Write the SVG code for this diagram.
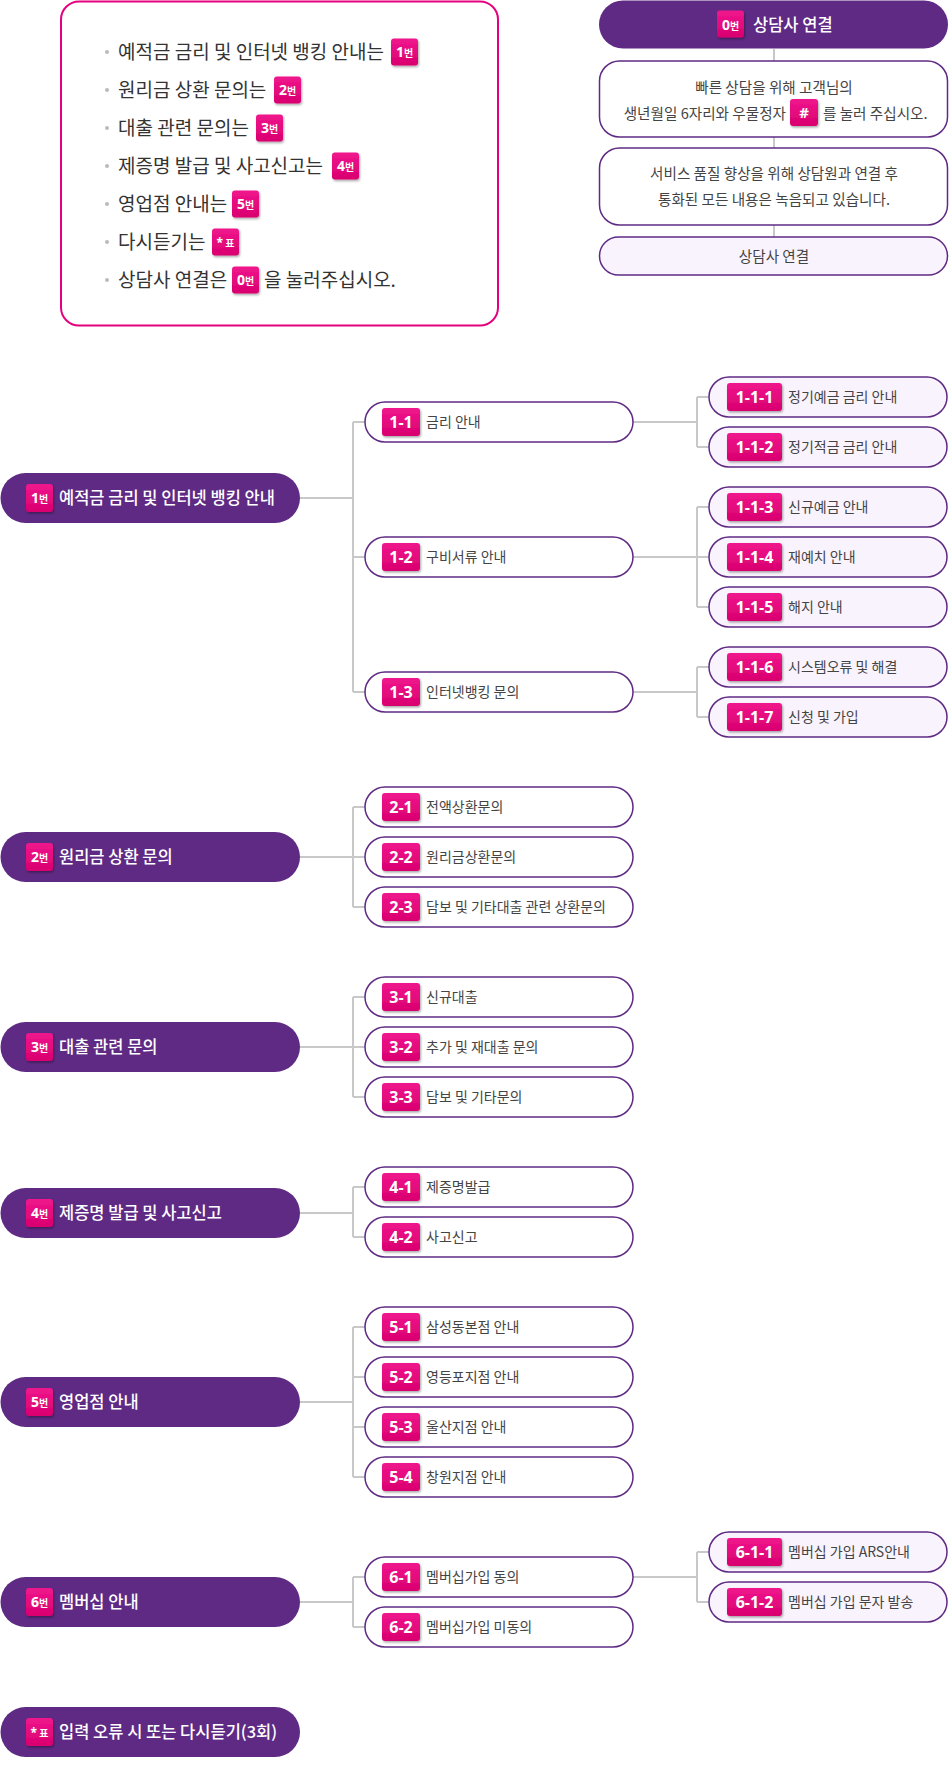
<svg xmlns="http://www.w3.org/2000/svg" width="949" height="1768" viewBox="0 0 949 1768">
<defs>
<linearGradient id="pk" x1="0" y1="0" x2="0" y2="1"><stop offset="0" stop-color="#f0168d"/><stop offset="1" stop-color="#d9006f"/></linearGradient>
<filter id="sh" x="-20%" y="-20%" width="150%" height="160%"><feDropShadow dx="1" dy="1.5" stdDeviation="0.8" flood-color="#000" flood-opacity="0.35"/></filter>
<style>
.bd{fill:url(#pk);filter:url(#sh)}
.bt{font-family:"Noto Sans","Noto Sans CJK KR",sans-serif;font-weight:700;fill:#fff;text-anchor:middle}
.l1{fill:#5f2a84}
.l1t{font-family:"Noto Sans CJK KR",sans-serif;font-size:16.5px;font-weight:500;fill:#fff}
.l2{fill:#fff;stroke:#5f2a84;stroke-width:1.5}
.l3{fill:#f9f3fd;stroke:#5f2a84;stroke-width:1.5}
.lt{font-family:"Noto Sans CJK KR",sans-serif;font-size:14px;fill:#444}
.rt{font-family:"Noto Sans CJK KR",sans-serif;font-size:14.6px;fill:#444}
.it{font-family:"Noto Sans CJK KR",sans-serif;font-size:19px;fill:#333}
.ct{font-family:"Noto Sans CJK KR",sans-serif;font-size:14.6px;fill:#444;text-anchor:middle}
.cn{fill:none;stroke:#c8c8c8;stroke-width:2}
.b2{font-size:16px}
.b3{font-size:16px}
.bs{font-size:10px;font-family:"Noto Sans CJK KR",sans-serif}
</style>
</defs>

<g id="connectors" class="cn">
<path d="M774 49V61M774 137V148M774 225V237"/>
<path d="M300 498H353M353 422V692M353 422H365M353 557H365M353 692H365"/>
<path d="M633 422H697M697 397V447M697 397H709M697 447H709"/>
<path d="M633 557H709M697 507V607M697 507H709M697 607H709"/>
<path d="M633 692H697M697 667V717M697 667H709M697 717H709"/>
<path d="M300 857H353M353 807V907M353 807H365M353 857H365M353 907H365"/>
<path d="M300 1047H353M353 997V1097M353 997H365M353 1047H365M353 1097H365"/>
<path d="M300 1213H353M353 1187V1237M353 1187H365M353 1237H365"/>
<path d="M300 1402H353M353 1327V1477M353 1327H365M353 1377H365M353 1427H365M353 1477H365"/>
<path d="M300 1602H353M353 1577V1627M353 1577H365M353 1627H365"/>
<path d="M633 1577H697M697 1552V1602M697 1552H709M697 1602H709"/>
</g>

<g id="menu-guide">
<rect x="61" y="1.5" width="437" height="324" rx="18" fill="#fff" stroke="#e5007e" stroke-width="2"/>
<g fill="#bbb"><circle cx="107" cy="52" r="2"/><circle cx="107" cy="90" r="2"/><circle cx="107" cy="128" r="2"/><circle cx="107" cy="166" r="2"/><circle cx="107" cy="204" r="2"/><circle cx="107" cy="242" r="2"/><circle cx="107" cy="280" r="2"/></g>
<text class="it" x="118" y="59">예적금 금리 및 인터넷 뱅킹 안내는</text>
<rect class="bd" x="391" y="38.5" width="27" height="27" rx="3"/><text class="bt" x="404.5" y="57"><tspan font-size="14">1</tspan><tspan class="bs">번</tspan></text>
<text class="it" x="118" y="97">원리금 상환 문의는</text>
<rect class="bd" x="274" y="76.5" width="27" height="27" rx="3"/><text class="bt" x="287.5" y="95"><tspan font-size="14">2</tspan><tspan class="bs">번</tspan></text>
<text class="it" x="118" y="135">대출 관련 문의는</text>
<rect class="bd" x="256" y="114.5" width="27" height="27" rx="3"/><text class="bt" x="269.5" y="133"><tspan font-size="14">3</tspan><tspan class="bs">번</tspan></text>
<text class="it" x="118" y="173">제증명 발급 및 사고신고는</text>
<rect class="bd" x="332" y="152.5" width="27" height="27" rx="3"/><text class="bt" x="345.5" y="171"><tspan font-size="14">4</tspan><tspan class="bs">번</tspan></text>
<text class="it" x="118" y="211">영업점 안내는</text>
<rect class="bd" x="232" y="190.5" width="27" height="27" rx="3"/><text class="bt" x="245.5" y="209"><tspan font-size="14">5</tspan><tspan class="bs">번</tspan></text>
<text class="it" x="118" y="249">다시듣기는</text>
<rect class="bd" x="212" y="228.5" width="27" height="27" rx="3"/><text class="bt" x="225.5" y="247"><tspan font-size="12">*</tspan><tspan class="bs"> 표</tspan></text>
<text class="it" x="118" y="287">상담사 연결은</text>
<rect class="bd" x="232" y="266.5" width="27" height="27" rx="3"/><text class="bt" x="245.5" y="285"><tspan font-size="14">0</tspan><tspan class="bs">번</tspan></text>
<text class="it" x="264" y="287">을 눌러주십시오.</text>
</g>

<g id="n0">
<rect class="l1" x="599" y="0.5" width="349" height="48" rx="24"/>
<rect class="bd" x="717" y="10.5" width="27" height="27" rx="3"/><text class="bt" x="730.5" y="29.5"><tspan font-size="14">0</tspan><tspan class="bs">번</tspan></text>
<text class="l1t" x="753" y="31">상담사 연결</text>
</g>
<g id="n0-a">
<rect class="l2" x="599.5" y="61" width="348" height="76" rx="20"/>
<text class="ct" x="774" y="92.5">빠른 상담을 위해 고객님의</text>
<text class="rt" x="786" y="118.5" text-anchor="end">생년월일 6자리와 우물정자</text>
<rect class="bd" x="790" y="99" width="28" height="27" rx="3"/><text class="bt" x="804" y="118" font-size="15">#</text>
<text class="rt" x="823" y="118.5">를 눌러 주십시오.</text>
</g>
<g id="n0-b">
<rect class="l2" x="599.5" y="148" width="348" height="77" rx="20"/>
<text class="ct" x="774" y="178.5">서비스 품질 향상을 위해 상담원과 연결 후</text>
<text class="ct" x="774" y="204.5">통화된 모든 내용은 녹음되고 있습니다.</text>
</g>
<g id="n0-c">
<rect class="l3" x="599.5" y="237" width="348" height="38" rx="19"/>
<text class="ct" x="774" y="261.5">상담사 연결</text>
</g>

<g id="n1">
<rect class="l1" x="0.5" y="473" width="299.5" height="50" rx="25"/>
<rect class="bd" x="26" y="484" width="27" height="28" rx="3"/><text class="bt" x="39.5" y="503"><tspan font-size="14">1</tspan><tspan class="bs">번</tspan></text>
<text class="l1t" x="59" y="504">예적금 금리 및 인터넷 뱅킹 안내</text>
</g>
<g id="n1-1"><rect class="l2" x="365" y="402" width="268" height="40" rx="20"/><rect class="bd" x="382" y="408" width="38" height="28" rx="3"/><text class="bt b2" x="401" y="427.8">1-1</text><text class="lt" x="426" y="427">금리 안내</text></g>
<g id="n1-2"><rect class="l2" x="365" y="537" width="268" height="40" rx="20"/><rect class="bd" x="382" y="543" width="38" height="28" rx="3"/><text class="bt b2" x="401" y="562.8">1-2</text><text class="lt" x="426" y="562">구비서류 안내</text></g>
<g id="n1-3"><rect class="l2" x="365" y="672" width="268" height="40" rx="20"/><rect class="bd" x="382" y="678" width="38" height="28" rx="3"/><text class="bt b2" x="401" y="697.8">1-3</text><text class="lt" x="426" y="697">인터넷뱅킹 문의</text></g>

<g id="n1-1-1"><rect class="l3" x="709" y="377" width="238" height="40" rx="20"/><rect class="bd" x="727" y="383" width="55" height="28" rx="3"/><text class="bt b3" x="754.5" y="402.8">1-1-1</text><text class="lt" x="788" y="402">정기예금 금리 안내</text></g>
<g id="n1-1-2"><rect class="l3" x="709" y="427" width="238" height="40" rx="20"/><rect class="bd" x="727" y="433" width="55" height="28" rx="3"/><text class="bt b3" x="754.5" y="452.8">1-1-2</text><text class="lt" x="788" y="452">정기적금 금리 안내</text></g>
<g id="n1-1-3"><rect class="l3" x="709" y="487" width="238" height="40" rx="20"/><rect class="bd" x="727" y="493" width="55" height="28" rx="3"/><text class="bt b3" x="754.5" y="512.8">1-1-3</text><text class="lt" x="788" y="512">신규예금 안내</text></g>
<g id="n1-1-4"><rect class="l3" x="709" y="537" width="238" height="40" rx="20"/><rect class="bd" x="727" y="543" width="55" height="28" rx="3"/><text class="bt b3" x="754.5" y="562.8">1-1-4</text><text class="lt" x="788" y="562">재예치 안내</text></g>
<g id="n1-1-5"><rect class="l3" x="709" y="587" width="238" height="40" rx="20"/><rect class="bd" x="727" y="593" width="55" height="28" rx="3"/><text class="bt b3" x="754.5" y="612.8">1-1-5</text><text class="lt" x="788" y="612">해지 안내</text></g>
<g id="n1-1-6"><rect class="l3" x="709" y="647" width="238" height="40" rx="20"/><rect class="bd" x="727" y="653" width="55" height="28" rx="3"/><text class="bt b3" x="754.5" y="672.8">1-1-6</text><text class="lt" x="788" y="672">시스템오류 및 해결</text></g>
<g id="n1-1-7"><rect class="l3" x="709" y="697" width="238" height="40" rx="20"/><rect class="bd" x="727" y="703" width="55" height="28" rx="3"/><text class="bt b3" x="754.5" y="722.8">1-1-7</text><text class="lt" x="788" y="722">신청 및 가입</text></g>

<g id="n2">
<rect class="l1" x="0.5" y="832" width="299.5" height="50" rx="25"/>
<rect class="bd" x="26" y="843" width="27" height="28" rx="3"/><text class="bt" x="39.5" y="862"><tspan font-size="14">2</tspan><tspan class="bs">번</tspan></text>
<text class="l1t" x="59" y="863">원리금 상환 문의</text>
</g>
<g id="n2-1"><rect class="l2" x="365" y="787" width="268" height="40" rx="20"/><rect class="bd" x="382" y="793" width="38" height="28" rx="3"/><text class="bt b2" x="401" y="812.8">2-1</text><text class="lt" x="426" y="812">전액상환문의</text></g>
<g id="n2-2"><rect class="l2" x="365" y="837" width="268" height="40" rx="20"/><rect class="bd" x="382" y="843" width="38" height="28" rx="3"/><text class="bt b2" x="401" y="862.8">2-2</text><text class="lt" x="426" y="862">원리금상환문의</text></g>
<g id="n2-3"><rect class="l2" x="365" y="887" width="268" height="40" rx="20"/><rect class="bd" x="382" y="893" width="38" height="28" rx="3"/><text class="bt b2" x="401" y="912.8">2-3</text><text class="lt" x="426" y="912">담보 및 기타대출 관련 상환문의</text></g>

<g id="n3">
<rect class="l1" x="0.5" y="1022" width="299.5" height="50" rx="25"/>
<rect class="bd" x="26" y="1033" width="27" height="28" rx="3"/><text class="bt" x="39.5" y="1052"><tspan font-size="14">3</tspan><tspan class="bs">번</tspan></text>
<text class="l1t" x="59" y="1053">대출 관련 문의</text>
</g>
<g id="n3-1"><rect class="l2" x="365" y="977" width="268" height="40" rx="20"/><rect class="bd" x="382" y="983" width="38" height="28" rx="3"/><text class="bt b2" x="401" y="1002.8">3-1</text><text class="lt" x="426" y="1002">신규대출</text></g>
<g id="n3-2"><rect class="l2" x="365" y="1027" width="268" height="40" rx="20"/><rect class="bd" x="382" y="1033" width="38" height="28" rx="3"/><text class="bt b2" x="401" y="1052.8">3-2</text><text class="lt" x="426" y="1052">추가 및 재대출 문의</text></g>
<g id="n3-3"><rect class="l2" x="365" y="1077" width="268" height="40" rx="20"/><rect class="bd" x="382" y="1083" width="38" height="28" rx="3"/><text class="bt b2" x="401" y="1102.8">3-3</text><text class="lt" x="426" y="1102">담보 및 기타문의</text></g>

<g id="n4">
<rect class="l1" x="0.5" y="1188" width="299.5" height="50" rx="25"/>
<rect class="bd" x="26" y="1199" width="27" height="28" rx="3"/><text class="bt" x="39.5" y="1218"><tspan font-size="14">4</tspan><tspan class="bs">번</tspan></text>
<text class="l1t" x="59" y="1219">제증명 발급 및 사고신고</text>
</g>
<g id="n4-1"><rect class="l2" x="365" y="1167" width="268" height="40" rx="20"/><rect class="bd" x="382" y="1173" width="38" height="28" rx="3"/><text class="bt b2" x="401" y="1192.8">4-1</text><text class="lt" x="426" y="1192">제증명발급</text></g>
<g id="n4-2"><rect class="l2" x="365" y="1217" width="268" height="40" rx="20"/><rect class="bd" x="382" y="1223" width="38" height="28" rx="3"/><text class="bt b2" x="401" y="1242.8">4-2</text><text class="lt" x="426" y="1242">사고신고</text></g>

<g id="n5">
<rect class="l1" x="0.5" y="1377" width="299.5" height="50" rx="25"/>
<rect class="bd" x="26" y="1388" width="27" height="28" rx="3"/><text class="bt" x="39.5" y="1407"><tspan font-size="14">5</tspan><tspan class="bs">번</tspan></text>
<text class="l1t" x="59" y="1408">영업점 안내</text>
</g>
<g id="n5-1"><rect class="l2" x="365" y="1307" width="268" height="40" rx="20"/><rect class="bd" x="382" y="1313" width="38" height="28" rx="3"/><text class="bt b2" x="401" y="1332.8">5-1</text><text class="lt" x="426" y="1332">삼성동본점 안내</text></g>
<g id="n5-2"><rect class="l2" x="365" y="1357" width="268" height="40" rx="20"/><rect class="bd" x="382" y="1363" width="38" height="28" rx="3"/><text class="bt b2" x="401" y="1382.8">5-2</text><text class="lt" x="426" y="1382">영등포지점 안내</text></g>
<g id="n5-3"><rect class="l2" x="365" y="1407" width="268" height="40" rx="20"/><rect class="bd" x="382" y="1413" width="38" height="28" rx="3"/><text class="bt b2" x="401" y="1432.8">5-3</text><text class="lt" x="426" y="1432">울산지점 안내</text></g>
<g id="n5-4"><rect class="l2" x="365" y="1457" width="268" height="40" rx="20"/><rect class="bd" x="382" y="1463" width="38" height="28" rx="3"/><text class="bt b2" x="401" y="1482.8">5-4</text><text class="lt" x="426" y="1482">창원지점 안내</text></g>

<g id="n6">
<rect class="l1" x="0.5" y="1577" width="299.5" height="50" rx="25"/>
<rect class="bd" x="26" y="1588" width="27" height="28" rx="3"/><text class="bt" x="39.5" y="1607"><tspan font-size="14">6</tspan><tspan class="bs">번</tspan></text>
<text class="l1t" x="59" y="1608">멤버십 안내</text>
</g>
<g id="n6-1"><rect class="l2" x="365" y="1557" width="268" height="40" rx="20"/><rect class="bd" x="382" y="1563" width="38" height="28" rx="3"/><text class="bt b2" x="401" y="1582.8">6-1</text><text class="lt" x="426" y="1582">멤버십가입 동의</text></g>
<g id="n6-2"><rect class="l2" x="365" y="1607" width="268" height="40" rx="20"/><rect class="bd" x="382" y="1613" width="38" height="28" rx="3"/><text class="bt b2" x="401" y="1632.8">6-2</text><text class="lt" x="426" y="1632">멤버십가입 미동의</text></g>
<g id="n6-1-1"><rect class="l3" x="709" y="1532" width="238" height="40" rx="20"/><rect class="bd" x="727" y="1538" width="55" height="28" rx="3"/><text class="bt b3" x="754.5" y="1557.8">6-1-1</text><text class="lt" x="788" y="1557">멤버십 가입 ARS안내</text></g>
<g id="n6-1-2"><rect class="l3" x="709" y="1582" width="238" height="40" rx="20"/><rect class="bd" x="727" y="1588" width="55" height="28" rx="3"/><text class="bt b3" x="754.5" y="1607.8">6-1-2</text><text class="lt" x="788" y="1607">멤버십 가입 문자 발송</text></g>

<g id="nstar">
<rect class="l1" x="0.5" y="1707" width="299.5" height="50" rx="25"/>
<rect class="bd" x="26" y="1718" width="27" height="28" rx="3"/><text class="bt" x="39.5" y="1737"><tspan font-size="12">*</tspan><tspan class="bs"> 표</tspan></text>
<text class="l1t" x="59" y="1738">입력 오류 시 또는 다시듣기(3회)</text>
</g>
</svg>
